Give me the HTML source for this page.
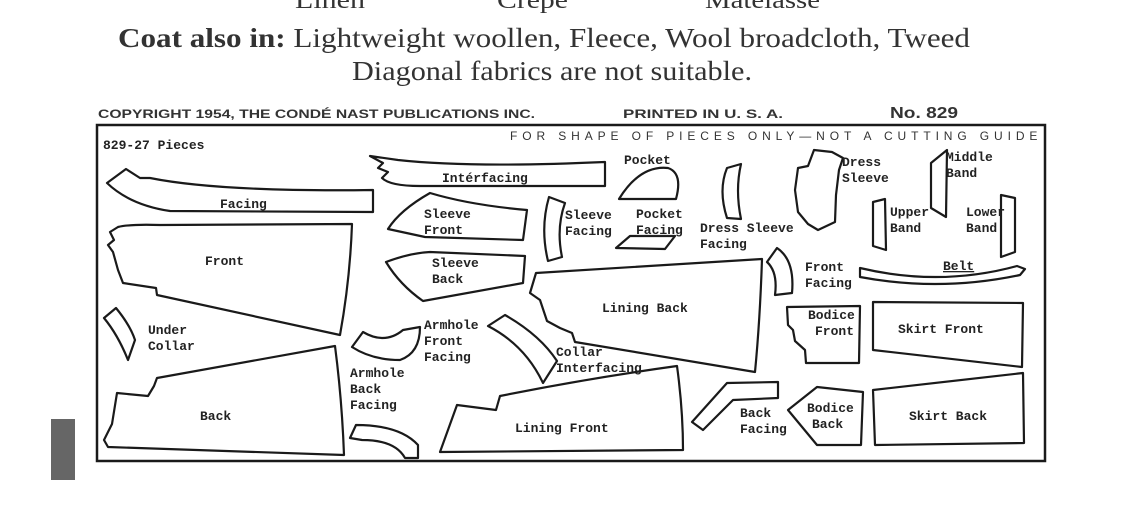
<!DOCTYPE html>
<html><head><meta charset="utf-8"><style>
html,body{margin:0;padding:0;background:#fff;}
svg{display:block}
.s{fill:#fff;stroke:#1a1a1a;stroke-width:2.2;stroke-linejoin:round}
.t{font-family:"Liberation Mono",monospace;font-size:13px;fill:#222;font-weight:bold}
.h{font-family:"Liberation Serif",serif;fill:#333}
.c{font-family:"Liberation Sans",sans-serif;font-weight:bold;fill:#333}
</style></head><body>
<svg width="1139" height="508" viewBox="0 0 1139 508" xmlns="http://www.w3.org/2000/svg">
<rect width="1139" height="508" fill="#fff"/>
<text class="h" x="295" y="8" font-size="24" textLength="70" lengthAdjust="spacingAndGlyphs">Linen</text>
<text class="h" x="497" y="8" font-size="24" textLength="71" lengthAdjust="spacingAndGlyphs">Crepe</text>
<text class="h" x="705" y="8" font-size="24" textLength="115" lengthAdjust="spacingAndGlyphs">Matelasse</text>
<text class="h" x="118" y="47" font-size="27" textLength="852" lengthAdjust="spacingAndGlyphs"><tspan font-weight="bold">Coat also in:</tspan> Lightweight woollen, Fleece, Wool broadcloth, Tweed</text>
<text class="h" x="352" y="80" font-size="27" textLength="400" lengthAdjust="spacingAndGlyphs">Diagonal fabrics are not suitable.</text>
<text class="c" x="98" y="118" font-size="12" textLength="437" lengthAdjust="spacingAndGlyphs">COPYRIGHT 1954, THE CONDÉ NAST PUBLICATIONS INC.</text>
<text class="c" x="623" y="118" font-size="12" textLength="160" lengthAdjust="spacingAndGlyphs">PRINTED IN U. S. A.</text>
<text class="c" x="890" y="118" font-size="16" textLength="68" lengthAdjust="spacingAndGlyphs">No. 829</text>
<rect x="51" y="419" width="24" height="61" fill="#666"/>
<rect x="97" y="125" width="948" height="336" fill="none" stroke="#1a1a1a" stroke-width="2.5"/>
<text class="t" x="103" y="149">829-27 Pieces</text>
<text x="510" y="140" font-family="Liberation Sans,sans-serif" font-size="12" letter-spacing="2.6" fill="#333" textLength="530">FOR SHAPE OF PIECES ONLY—NOT A CUTTING GUIDE</text>
<path class="s" d="M107,183 L126,169 L140,178 L150,178 Q220,192 373,190 L373,212 L170,211 Q130,205 107,183Z"/>
<path class="s" d="M110,232 L118,227 Q130,224 160,225 L352,224 Q350,280 340,335 L157,295 L156,288 L123,283 L118,270 L113,252 L108,245 L114,240Z"/>
<path class="s" d="M104,318 L116,308 Q130,325 135,340 L128,360 Q118,335 104,318Z"/>
<path class="s" d="M157,378 L335,346 Q342,400 344,455 L108,447 L104,440 L112,424 L117,393 L148,396 L154,386Z"/>
<path class="s" d="M370,156 L398,160 Q470,168 605,162 L605,186 L420,186 Q390,186 382,178 L388,172 L378,168 L383,163Z"/>
<path class="s" d="M430,193 Q470,205 527,210 L523,240 L425,237 L388,229 Q400,210 430,193Z"/>
<path class="s" d="M386,262 Q410,253 430,252 L525,256 L523,283 L423,301 Q400,285 386,262Z"/>
<path class="s" d="M549,197 L565,203 Q556,228 562,257 L548,261 Q540,228 549,197Z"/>
<path class="s" d="M619,199 Q640,165 668,168 Q683,173 676,199Z"/>
<path class="s" d="M616,248 L630,236 L675,236 L665,249Z"/>
<path class="s" d="M727,168 L741,164 Q735,190 741,219 L727,218 Q718,190 727,168Z"/>
<path class="s" d="M814,150 L832,152 L843,158 L839,170 L836,195 L835,222 L818,230 L808,224 L798,212 L795,190 L798,168 L808,166Z"/>
<path class="s" d="M931,163 L947,150 L946,217 L931,208Z"/>
<path class="s" d="M873,202 L885,199 L886,250 L873,246Z"/>
<path class="s" d="M1001,195 L1015,198 L1015,252 L1001,257Z"/>
<path class="s" d="M860,268 Q940,287 1017,266 L1025,269 L1020,275 Q940,292 860,277Z"/>
<path class="s" d="M767,262 L777,248 Q795,260 792,293 L775,295 Q778,272 767,262Z"/>
<path class="s" d="M536,273 L762,259 Q760,320 755,372 L575,342 L572,333 L560,328 L547,321 L540,300 L530,293Z"/>
<path class="s" d="M488,326 L505,315 Q540,335 557,361 L543,383 Q525,345 488,326Z"/>
<path class="s" d="M352,347 L363,332 Q385,345 403,330 L420,327 Q420,353 400,360 Q372,360 352,347Z"/>
<path class="s" d="M350,438 L356,425 Q400,425 418,445 L418,458 L405,458 Q395,440 362,440Z"/>
<path class="s" d="M440,452 L457,405 L496,410 L500,396 Q590,378 677,366 Q683,410 683,450Z"/>
<path class="s" d="M692,422 L727,383 L778,382 L778,398 L733,400 L703,430Z"/>
<path class="s" d="M787,307 L860,306 L859,363 L806,363 L805,350 L795,341 L793,330 L788,325Z"/>
<path class="s" d="M788,410 L817,387 L863,392 L861,445 L817,445Z"/>
<path class="s" d="M873,302 L1023,303 L1022,367 L873,350Z"/>
<path class="s" d="M873,390 L1023,373 L1024,443 L875,445Z"/>
<g class="t">
<text x="220" y="208">Facing</text>
<text x="205" y="265">Front</text>
<text x="148" y="334">Under</text><text x="148" y="350">Collar</text>
<text x="200" y="420">Back</text>
<text x="442" y="182">Intérfacing</text>
<text x="424" y="218">Sleeve</text><text x="424" y="234">Front</text>
<text x="432" y="267">Sleeve</text><text x="432" y="283">Back</text>
<text x="565" y="219">Sleeve</text><text x="565" y="235">Facing</text>
<text x="624" y="164">Pocket</text>
<text x="636" y="218">Pocket</text><text x="636" y="234" text-decoration="underline">Facing</text>
<text x="700" y="232">Dress Sleeve</text><text x="700" y="248">Facing</text>
<text x="842" y="166">Dress</text><text x="842" y="182">Sleeve</text>
<text x="946" y="161">Middle</text><text x="946" y="177">Band</text>
<text x="890" y="216">Upper</text><text x="890" y="232">Band</text>
<text x="966" y="216">Lower</text><text x="966" y="232">Band</text>
<text x="943" y="270" text-decoration="underline">Belt</text>
<text x="805" y="271">Front</text><text x="805" y="287">Facing</text>
<text x="602" y="312">Lining Back</text>
<text x="808" y="319">Bodice</text><text x="815" y="335">Front</text>
<text x="898" y="333">Skirt Front</text>
<text x="424" y="329">Armhole</text><text x="424" y="345">Front</text><text x="424" y="361">Facing</text>
<text x="556" y="356">Collar</text><text x="556" y="372">Interfacing</text>
<text x="350" y="377">Armhole</text><text x="350" y="393">Back</text><text x="350" y="409">Facing</text>
<text x="515" y="432">Lining Front</text>
<text x="740" y="417">Back</text><text x="740" y="433">Facing</text>
<text x="807" y="412">Bodice</text><text x="812" y="428">Back</text>
<text x="909" y="420">Skirt Back</text>
</g>
</svg>
</body></html>
